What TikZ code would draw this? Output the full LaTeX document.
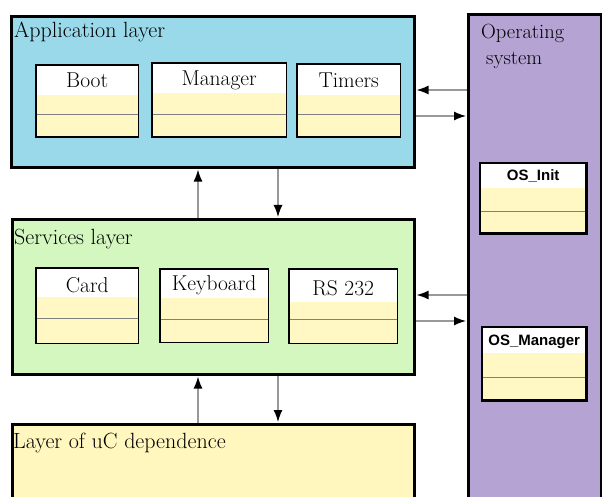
\documentclass[tikz,border=0pt]{standalone}
\usepackage{fontspec}
\newfontfamily\osfont{Liberation Sans}
\usetikzlibrary{arrows.meta}
\definecolor{appblue}{RGB}{153,217,234}
\definecolor{srvgreen}{RGB}{211,247,190}
\definecolor{ucyellow}{RGB}{255,247,190}
\definecolor{ospurple}{RGB}{181,163,212}
\definecolor{clsyellow}{RGB}{255,248,196}

\begin{document}
\begin{tikzpicture}[x=1pt,y=-1pt,>={Latex[length=12pt,width=9pt,color=black]},
                    layer/.style={draw,line width=2.6pt,anchor=north west,inner sep=0pt},
                    title/.style={anchor=base west,inner sep=0pt,font=\fontsize{22}{24}\selectfont},
                    link/.style={->,draw=gray!80,line width=1.3pt,shorten >=1pt}]
    \clip (0,0) rectangle (602,497);
    % layers
    \node[layer,fill=appblue,minimum width=403pt,minimum height=151pt] (app) at (10,15) {};
    \node[layer,fill=srvgreen,minimum width=402pt,minimum height=155pt] (srv) at (11,218) {};
    \node[layer,fill=ucyellow,minimum width=402pt,minimum height=200pt] (uc) at (11,423) {};
    \node[layer,fill=ospurple,minimum width=133pt,minimum height=600pt] (os) at (467,13) {};
    \node[title] (apptitle) at (14,38) {Application layer};
    \node[title] (srvtitle) at (14,244) {Services layer};
    \node[title] (uctitle) at (13,448) {Layer of uC dependence};
    \node[anchor=north west,inner sep=0pt,align=left,
          font=\fontsize{20.5}{27}\selectfont] (ostitle) at (481,24)
          {Operating\\[-1pt]\hspace{5pt}system};
    % classes
    \foreach \nm/\xa/\ya/\xb/\yb/\hd/\dv/\bl/\txt in
        {boot/36/65/138/137/95/114/88/Boot,
         mgr/152/63/286/137/93/114/86/Manager,
         tmr/297/64/400/137/95/114/88/Timers,
         card/36/268/138/343/297/318/292/Card,
         kbd/160/269/268/342/298/319/290/Keyboard,
         rs/289/269/397/343/302/319/295/RS 232}
    {
        \node[fill=clsyellow,anchor=north west,inner sep=0pt,
              minimum width={(\xb-\xa)*1pt},minimum height={(\yb-\ya)*1pt}] (\nm) at (\xa,\ya) {};
        \fill[white] (\xa,\ya) rectangle (\xb,\hd);
        \draw[gray,line width=0.9pt] (\xa,\dv) -- (\xb,\dv);
        \draw[line width=1.8pt] (\nm.north west) rectangle (\nm.south east);
        \node[anchor=base,inner sep=0pt,font=\fontsize{21.5}{23}\selectfont] (\nm-lbl) at (\nm.north |- 0,\bl) {\txt};
    }
    \foreach \nm/\xa/\ya/\xb/\yb/\hd/\dv/\bl/\txt in
        {osinit/480/163/586/233/188/211/181/OS\_Init,
         osmgr/482/327/586/400/353/377/345/OS\_Manager}
    {
        \node[fill=clsyellow,anchor=north west,inner sep=0pt,
              minimum width={(\xb-\xa)*1pt},minimum height={(\yb-\ya)*1pt}] (\nm) at (\xa,\ya) {};
        \fill[white] (\xa,\ya) rectangle (\xb,\hd);
        \draw[gray,line width=0.9pt] (\xa,\dv) -- (\xb,\dv);
        \draw[line width=2.2pt] (\nm.north west) rectangle (\nm.south east);
        \node[anchor=base,inner sep=0pt,font=\osfont\bfseries\fontsize{15}{17}\selectfont] (\nm-lbl) at (\nm.north |- 0,\bl) {\txt};
    }
    % connectors
    \coordinate (colup) at (198,0);
    \coordinate (coldn) at (278,0);
    \coordinate (rowa) at (0,90);
    \coordinate (rowb) at (0,116);
    \coordinate (rowc) at (0,295);
    \coordinate (rowd) at (0,321);
    \draw[link] (srv.north -| colup) -- (app.south -| colup);
    \draw[link] (app.south -| coldn) -- (srv.north -| coldn);
    \draw[link] (uc.north -| colup) -- (srv.south -| colup);
    \draw[link] (srv.south -| coldn) -- (uc.north -| coldn);
    \draw[link] (os.west |- rowa) -- (app.east |- rowa);
    \draw[link] (app.east |- rowb) -- (os.west |- rowb);
    \draw[link] (os.west |- rowc) -- (srv.east |- rowc);
    \draw[link] (srv.east |- rowd) -- (os.west |- rowd);
\end{tikzpicture}
\end{document}
